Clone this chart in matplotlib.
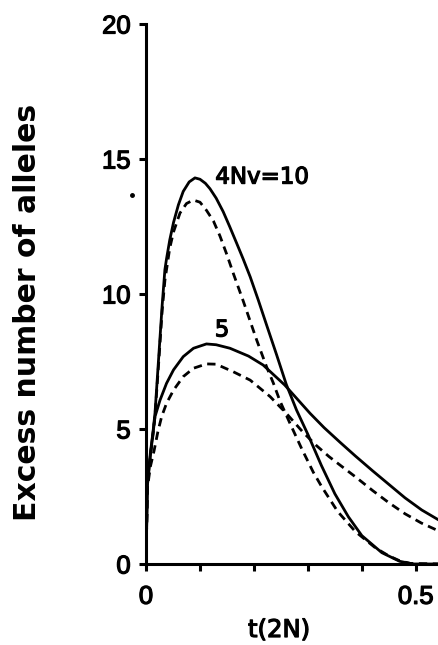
import numpy as np
import matplotlib
matplotlib.use("Agg")
import matplotlib.pyplot as plt
import matplotlib.patheffects as pe

# Curves: excess number of alleles vs t (units of 2N)
# 4Nv = 10
x_sol10 = [0, 0.0025, 0.008, 0.013, 0.0167, 0.024, 0.030, 0.035, 0.038, 0.044, 0.051,
           0.060, 0.069, 0.080, 0.0907, 0.100, 0.110, 0.1185, 0.130, 0.143, 0.155,
           0.168, 0.180, 0.193, 0.208, 0.2235, 0.242, 0.260, 0.279, 0.300, 0.325,
           0.350, 0.375, 0.400, 0.437, 0.470, 0.495, 0.545]
y_sol10 = [0, 2.9, 4.1, 4.9, 5.6, 7.8, 9.6, 10.9, 11.3, 12.0, 12.65,
           13.3, 13.8, 14.15, 14.3, 14.25, 14.1, 13.9, 13.55, 13.05, 12.5,
           11.88, 11.3, 10.64, 9.78, 8.85, 7.75, 6.65, 5.7, 4.8, 3.65,
           2.6, 1.75, 1.05, 0.42, 0.1, 0.0, 0.0]

x_dash10 = [0, 0.0025, 0.008, 0.013, 0.0167, 0.024, 0.030, 0.035, 0.044, 0.051,
            0.063, 0.075, 0.0876, 0.100, 0.112, 0.125, 0.137, 0.150, 0.162,
            0.180, 0.205, 0.2235, 0.236, 0.248, 0.267, 0.289, 0.310, 0.326,
            0.355, 0.388, 0.425, 0.450, 0.470, 0.490, 0.545]
y_dash10 = [0, 2.8, 4.0, 4.8, 5.5, 7.6, 9.4, 10.5, 11.7, 12.3,
            13.0, 13.35, 13.48, 13.4, 13.1, 12.7, 12.15, 11.45, 10.75,
            9.75, 8.3, 7.3, 6.7, 6.05, 5.2, 4.25, 3.4, 2.85,
            1.95, 1.2, 0.6, 0.3, 0.12, 0.02, 0.0]

# 4Nv = 5
x_sol5 = [0, 0.0025, 0.008, 0.0167, 0.026, 0.038, 0.051, 0.069, 0.088, 0.112,
          0.130, 0.1556, 0.190, 0.217, 0.257, 0.304, 0.330, 0.360, 0.388,
          0.420, 0.450, 0.480, 0.511, 0.545]
y_sol5 = [0, 2.9, 4.0, 5.46, 6.07, 6.69, 7.19, 7.68, 7.99, 8.15,
          8.12, 7.99, 7.7, 7.37, 6.63, 5.58, 5.05, 4.5, 4.0,
          3.45, 2.95, 2.45, 2.0, 1.6]

x_dash5 = [0, 0.0025, 0.008, 0.015, 0.022, 0.029, 0.038, 0.051, 0.069, 0.088,
           0.112, 0.130, 0.1617, 0.193, 0.230, 0.260, 0.291, 0.315, 0.339,
           0.365, 0.388, 0.420, 0.450, 0.480, 0.510, 0.545]
y_dash5 = [0, 2.8, 3.6, 4.2, 4.9, 5.46, 5.95, 6.44, 6.94, 7.25,
           7.41, 7.4, 7.12, 6.81, 6.2, 5.58, 4.88, 4.4, 3.98,
           3.58, 3.23, 2.72, 2.27, 1.86, 1.52, 1.2]

# stray dot in the scan, left of the axis
dot_x = [-0.0265]
dot_y = [13.67]

y_ticks = [0, 5, 10, 15, 20]
x_ticks = [0, 0.5]
x_tick_labels = ["0", "0.5"]
x_minor = [0.1, 0.2, 0.3, 0.4]

fig = plt.figure(figsize=(4.39, 6.45), dpi=100)
ax = fig.add_axes([0.3326, 0.1256, 0.6674, 0.8372])

lw = 2.0
dash = (0, (3, 2))
ax.plot(x_sol10, y_sol10, color="black", lw=lw, solid_joinstyle="round")
ax.plot(x_dash10, y_dash10, color="black", lw=lw, linestyle=dash)
ax.plot(x_sol5, y_sol5, color="black", lw=lw, solid_joinstyle="round")
ax.plot(x_dash5, y_dash5, color="black", lw=lw, linestyle=dash)

ax.plot(dot_x, dot_y, "o", color="black", ms=2.5, clip_on=False)

# slightly heavier strokes, like the printed lettering
thick = [pe.withStroke(linewidth=0.9, foreground="black")]

ax.text(0.215, 14.33, "4Nv=10", ha="center", va="center", fontsize=16.5,
        family="DejaVu Sans", path_effects=thick)
ax.text(0.141, 8.67, "5", ha="center", va="center", fontsize=16.5,
        family="DejaVu Sans", path_effects=thick)

ax.set_xlim(0, 0.543)
ax.set_ylim(0, 20)

for side in ["top", "right"]:
    ax.spines[side].set_visible(False)
for side in ["left", "bottom"]:
    ax.spines[side].set_linewidth(2.2)

ax.set_yticks(y_ticks)
ax.set_xticks(x_ticks)
ax.set_xticklabels(x_tick_labels)
ax.set_xticks(x_minor, minor=True)
ax.tick_params(axis="both", which="both", direction="out", length=5, width=2.2)
ax.tick_params(axis="y", pad=6)
ax.tick_params(axis="x", pad=10)
for lab in ax.get_xticklabels() + ax.get_yticklabels():
    lab.set_family("Liberation Sans")
    lab.set_fontsize(18.5)
    lab.set_path_effects(thick)

fig.text(28 / 439, 1 - 312 / 645, "Excess number of alleles", rotation=90,
         ha="center", va="center", fontsize=21.5, fontweight="bold",
         family="DejaVu Sans")
fig.text(279 / 439, 1 - 630 / 645, "t(2N)", ha="center", va="center",
         fontsize=17.5, family="DejaVu Sans", path_effects=thick)

fig.savefig("out.png", dpi=100)
